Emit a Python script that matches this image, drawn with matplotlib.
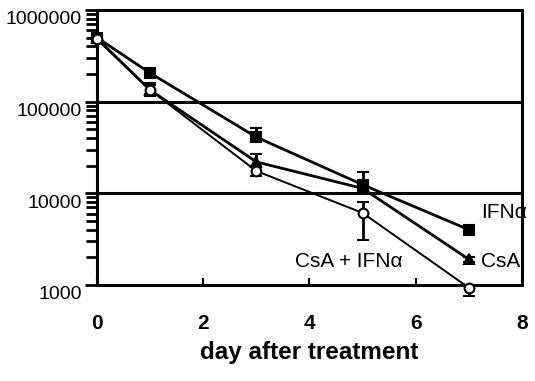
import matplotlib
matplotlib.use("Agg")
import matplotlib.pyplot as plt
import matplotlib.transforms as mtransforms
from matplotlib.ticker import LogLocator, FixedLocator, NullFormatter
import numpy as np

plt.rcParams['font.family'] = ['Liberation Sans', 'DejaVu Sans']

days = [0, 1, 3, 5, 7]

ifn = [500000, 205000, 41000, 12400, 4000]
ifn_lo = [480000, 195000, 39000, 11500, 3900]
ifn_hi = [520000, 215000, 51000, 17000, 4100]

csa = [490000, 134000, 22000, 11300, 1900]
csa_lo = [470000, 120000, 20000, 10500, 1800]
csa_hi = [510000, 160000, 27000, 12500, 2000]

combo = [480000, 134000, 17500, 6100, 930]
combo_lo = [460000, 115000, 15500, 3100, 760]
combo_hi = [500000, 150000, 19500, 8000, 1000]

x_ticks = [0, 2, 4, 6, 8]
y_ticks = [1000, 10000, 100000, 1000000]
y_tick_labels = ['1000', '10000', '100000', '1000000']

fig = plt.figure(figsize=(5.35, 3.81), dpi=100)
ax = fig.add_axes([0.181, 0.252, 0.795, 0.722])
ax.set_yscale('log')
ax.set_xlim(0, 8)
ax.set_ylim(1000, 1000000)

# horizontal reference lines at each inner decade
for v in [10000, 100000]:
    ax.axhline(v, color='black', lw=2.2, zorder=1)


def draw(vals, lo, hi, marker, mfc, lw, ms):
    vals = np.array(vals, dtype=float)
    yerr = [vals - np.array(lo), np.array(hi) - vals]
    ax.errorbar(days, vals, yerr=yerr, color='black', lw=lw, marker=marker,
                mfc=mfc, mec='black', mew=1.5, ms=ms, capsize=4, capthick=2,
                elinewidth=2, clip_on=False, zorder=3)


draw(ifn, ifn_lo, ifn_hi, 's', 'black', 2.0, 7)
draw(csa, csa_lo, csa_hi, '^', 'black', 2.0, 7)
draw(combo, combo_lo, combo_hi, 'o', 'white', 1.4, 7)

for s in ax.spines.values():
    s.set_linewidth(2.2)

ax.xaxis.set_major_locator(FixedLocator(x_ticks))
ax.set_xticklabels([str(t) for t in x_ticks])
ax.tick_params(axis='x', direction='in', length=5, width=1.5, pad=21,
               labelsize=15)
for lbl in ax.get_xticklabels():
    lbl.set_fontweight('bold')

ax.yaxis.set_major_locator(FixedLocator(y_ticks))
ax.set_yticklabels(y_tick_labels)
ax.yaxis.set_minor_locator(LogLocator(base=10, subs=np.arange(2, 10)))
ax.yaxis.set_minor_formatter(NullFormatter())
ax.tick_params(axis='y', which='major', direction='out', length=9,
               width=2, pad=2, labelsize=14)
ax.tick_params(axis='y', which='minor', direction='out', length=8, width=2)
# value labels sit a little below their tick marks
shift = mtransforms.ScaledTranslation(0, -0.08, fig.dpi_scale_trans)
for lbl in ax.get_yticklabels():
    lbl.set_transform(lbl.get_transform() + shift)

ax.set_xlabel('day after treatment', fontsize=17.5, fontweight='bold')
ax.xaxis.label.set_va('center')
ax.xaxis.set_label_coords(0.5, -0.244)

ax.text(7.23, 6100, 'IFNα', fontsize=15, ha='left', va='center')
ax.text(7.23, 1790, 'CsA', fontsize=15, ha='left', va='center')
ax.text(3.73, 1790, 'CsA + IFNα', fontsize=15, ha='left', va='center')

fig.savefig('out.png', dpi=100)
